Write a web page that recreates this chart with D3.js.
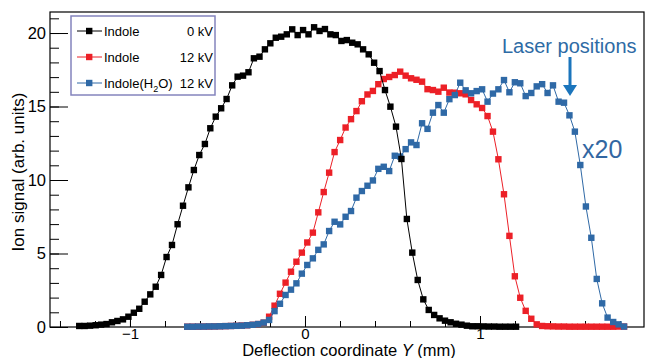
<!DOCTYPE html>
<meta charset="utf-8">
<script src="https://d3js.org/d3.v7.min.js"></script>
<style>
body { margin: 0; background: #fff; }
text { font-family: 'Liberation Sans', Arial, Helvetica, sans-serif; }
</style>
<div id="chart"></div>
<script>
// scan positions (mm) for the field-free run and for the 12 kV runs
const scan0kV = [-1.290,-1.259,-1.228,-1.196,-1.165,-1.134,-1.103,-1.072,-1.040,-1.009,
  -0.978,-0.947,-0.916,-0.884,-0.853,-0.822,-0.791,-0.760,-0.728,-0.697,
  -0.666,-0.635,-0.604,-0.572,-0.541,-0.510,-0.479,-0.448,-0.416,-0.385,
  -0.354,-0.323,-0.292,-0.260,-0.229,-0.198,-0.167,-0.136,-0.104,-0.073,
  -0.042,-0.011,0.020,0.052,0.083,0.114,0.145,0.176,0.208,0.239,
  0.270,0.301,0.332,0.364,0.395,0.426,0.457,0.488,0.520,0.551,
  0.582,0.613,0.644,0.676,0.707,0.738,0.769,0.800,0.832,0.863,
  0.894,0.925,0.956,0.988,1.019,1.050,1.081,1.112,1.144,1.175,1.206];
const scan12kV = [-0.673,-0.642,-0.611,-0.579,-0.548,-0.517,-0.486,-0.455,-0.423,-0.392,
  -0.361,-0.330,-0.299,-0.267,-0.236,-0.205,-0.174,-0.143,-0.111,-0.080,
  -0.049,-0.018,0.013,0.045,0.076,0.107,0.138,0.169,0.201,0.232,
  0.263,0.294,0.325,0.357,0.388,0.419,0.450,0.481,0.513,0.544,
  0.575,0.606,0.637,0.669,0.700,0.731,0.762,0.793,0.825,0.856,
  0.887,0.918,0.949,0.981,1.012,1.043,1.074,1.105,1.137,1.168,
  1.199,1.230,1.261,1.293,1.324,1.355,1.386,1.417,1.449,1.480,
  1.511,1.542,1.573,1.605,1.636,1.667,1.698,1.729,1.761,1.792,1.823];

// ion signal (arb. units)
const indole0kV = [0.07,0.07,0.09,0.12,0.16,0.20,0.32,0.41,0.52,0.70,
  0.97,1.24,1.72,2.22,2.74,3.54,4.76,5.58,6.99,8.25,
  9.50,10.68,11.70,12.45,13.52,14.31,14.88,15.51,16.44,17.03,
  17.10,17.33,18.28,18.39,18.89,19.30,19.68,19.75,19.91,20.25,
  19.86,20.20,19.91,20.39,20.14,20.27,19.91,19.86,19.46,19.52,
  19.34,19.23,18.89,18.55,17.98,17.41,16.12,14.99,13.63,11.43,
  7.35,5.06,3.20,1.88,1.16,0.82,0.59,0.43,0.32,0.22,
  0.16,0.09,0.05,0.05,0.04,0.03,0.03,0.02,0.02,0.02,0.02];
const indole12kV = [0.02,0.02,0.02,0.03,0.03,0.04,0.05,0.06,0.07,0.08,
  0.10,0.12,0.15,0.20,0.29,0.70,1.45,2.26,3.02,3.76,
  4.44,5.06,5.75,6.42,7.80,9.18,10.50,11.90,12.72,13.57,
  14.14,14.69,15.36,15.82,16.06,16.52,16.87,17.01,17.14,17.37,
  17.10,16.92,16.82,16.69,16.18,16.12,16.01,16.28,15.95,15.94,
  15.90,15.83,15.44,15.15,14.90,14.35,13.29,11.41,9.03,6.20,
  3.45,1.99,1.10,0.56,0.18,0.07,0.05,0.04,0.03,0.03,
  0.02,0.02,0.02,0.02,0.02,0.02,0.02,0.02,0.02,0.03,0.03];
// indole(H2O), shown x20
const indoleWater12kV = [0.02,0.02,0.03,0.03,0.04,0.04,0.05,0.06,0.07,0.08,
  0.09,0.12,0.15,0.20,0.30,0.48,1.08,1.58,2.18,2.54,
  2.97,3.63,4.22,4.67,5.25,5.62,6.53,7.16,6.98,7.50,
  7.89,8.80,9.25,9.61,9.97,10.76,10.90,10.61,11.65,11.60,
  12.10,12.56,12.38,13.86,13.48,14.58,15.10,14.58,15.50,15.78,
  16.62,16.10,15.90,16.05,16.17,15.33,15.88,16.17,16.80,15.97,
  16.65,16.58,15.71,15.92,16.37,16.52,15.92,16.44,15.33,15.26,
  14.40,13.29,11.02,8.20,6.07,3.27,1.61,0.64,0.34,0.18,0.03];

const xTicks = [-1, 0, 1];
const yTicks = [0, 5, 10, 15, 20];

const colBlack = "#000000", colRed = "#ec2027", colBlue = "#2f69a6";

const margin = {top: 12, right: 6, bottom: 31, left: 50},
    width = 650 - margin.left - margin.right,
    height = 358 - margin.top - margin.bottom;

const root = d3.select("#chart").append("svg")
    .attr("width", 650)
    .attr("height", 358);
const svg = root.append("g")
    .attr("transform", "translate(" + margin.left + "," + margin.top + ")");

const x = d3.scaleLinear().domain([-1.457, 1.937]).range([0, width]);
const y = d3.scaleLinear().domain([0, 21.43]).range([height, 0]);

// minor ticks
svg.append("g")
    .attr("transform", "translate(0," + height + ")")
    .call(d3.axisBottom(x).tickValues(d3.range(-7, 10).map(d => d / 5)).tickSize(-6).tickFormat(""))
    .call(g => g.select(".domain").remove());
svg.append("g")
    .call(d3.axisLeft(y).tickValues(d3.range(0, 22)).tickSize(-9).tickFormat(""))
    .call(g => g.select(".domain").remove());

// major ticks + labels
svg.append("g")
    .attr("transform", "translate(0," + height + ")")
    .call(d3.axisBottom(x).tickValues(xTicks).tickSize(-11).tickPadding(1)
      .tickFormat(d => d < 0 ? "\u2212" + Math.abs(d) : d))
    .call(g => g.select(".domain").remove())
    .call(g => g.selectAll("text").attr("font-size", 15).attr("font-family", null).attr("fill", "#000"));
svg.append("g")
    .call(d3.axisLeft(y).tickValues(yTicks).tickSize(-18).tickPadding(4))
    .call(g => g.select(".domain").remove())
    .call(g => g.selectAll("text").attr("font-size", 16.5).attr("font-family", null).attr("fill", "#000"));

svg.selectAll(".tick line").attr("stroke", "#000");

// frame
svg.append("rect")
    .attr("width", width).attr("height", height)
    .attr("fill", "none").attr("stroke", "#000").attr("stroke-width", 1.2);

// series
function drawSeries(xs, ys, color) {
  const pts = xs.map((d, i) => [d, ys[i]]);
  svg.append("path")
      .datum(pts)
      .attr("fill", "none")
      .attr("stroke", color)
      .attr("stroke-width", 1)
      .attr("d", d3.line().x(d => x(d[0])).y(d => y(d[1])));
  svg.append("g")
    .selectAll("rect")
    .data(pts)
    .join("rect")
      .attr("x", d => x(d[0]) - 3.2)
      .attr("y", d => y(d[1]) - 3.2)
      .attr("width", 6.4)
      .attr("height", 6.4)
      .attr("fill", color);
}
drawSeries(scan12kV, indole12kV, colRed);
drawSeries(scan12kV, indoleWater12kV, colBlue);
drawSeries(scan0kV, indole0kV, colBlack);

// axis titles
const xTitle = root.append("text")
    .attr("x", 349).attr("y", 355.5)
    .attr("text-anchor", "middle")
    .attr("font-size", 16.5);
xTitle.append("tspan").text("Deflection coordinate ");
xTitle.append("tspan").attr("font-style", "italic").text("Y");
xTitle.append("tspan").text(" (mm)");

root.append("text")
    .attr("transform", "rotate(-90)")
    .attr("x", -172).attr("y", 24)
    .attr("text-anchor", "middle")
    .attr("font-size", 17)
    .text("Ion signal (arb. units)");

// legend
const legend = [
  {name: "Indole", sub: null, volt: "0 kV", color: colBlack},
  {name: "Indole", sub: null, volt: "12 kV", color: colRed},
  {name: "Indole(H", sub: "2", rest: "O)", volt: "12 kV", color: colBlue}
];
root.append("rect")
    .attr("x", 71).attr("y", 16).attr("width", 144).attr("height", 79)
    .attr("fill", "#fff").attr("stroke", "#8484bd").attr("stroke-width", 1.5);
const rows = root.selectAll(".leg").data(legend).join("g")
    .attr("transform", (d, i) => "translate(0," + (31 + i * 26) + ")");
rows.append("line").attr("x1", 77).attr("x2", 102).attr("stroke", d => d.color);
rows.append("rect").attr("x", 86).attr("y", -3.2).attr("width", 6.4).attr("height", 6.4)
    .attr("fill", d => d.color);
const lab = rows.append("text").attr("x", 104).attr("dy", "0.36em").attr("font-size", 13);
lab.append("tspan").text(d => d.name);
lab.filter(d => d.sub).append("tspan").attr("font-size", 9).attr("dy", 4).text(d => d.sub);
lab.filter(d => d.sub).append("tspan").attr("dy", -4).text(d => d.rest);
rows.append("text").attr("x", 213).attr("dy", "0.36em").attr("text-anchor", "end")
    .attr("font-size", 13).text(d => d.volt);

// annotations
root.append("text")
    .attr("x", 502).attr("y", 53)
    .attr("font-size", 20)
    .attr("fill", "#2e6ba5")
    .text("Laser positions");
root.append("line")
    .attr("x1", 570).attr("x2", 570).attr("y1", 57).attr("y2", 87)
    .attr("stroke", "#1b75bc").attr("stroke-width", 3);
root.append("path")
    .attr("d", "M563,85 L577,85 L570,96 Z")
    .attr("fill", "#1b75bc");
root.append("text")
    .attr("x", 582).attr("y", 158)
    .attr("font-size", 25)
    .attr("fill", "#3367a2")
    .text("x20");
</script>
